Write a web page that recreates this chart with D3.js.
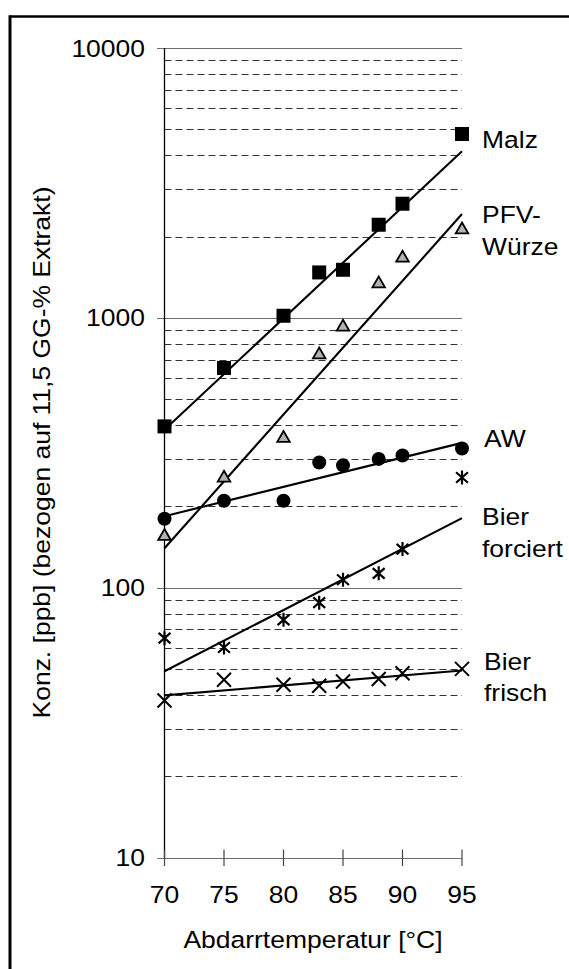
<!DOCTYPE html>
<html>
<head>
<meta charset="utf-8">
<script src="https://cdn.jsdelivr.net/npm/d3@7"></script>
<style>
  html, body { margin: 0; padding: 0; background: #fff; }
  svg { display: block; font-family: "Liberation Sans", Arial, sans-serif; }
</style>
</head>
<body>
<svg id="chart" width="569" height="969"></svg>
<script>
// Abdarrtemperatur (°C)
const temps = [70, 75, 80, 83, 85, 88, 90, 95];

// Konzentration [ppb] bezogen auf 11,5 GG-% Extrakt
const malz       = [396, 652, 1018, 1473, 1507, 2213, 2648, 4800];
const pfvWuerze  = [155, 255, 358, 730, 925, 1338, 1666, 2121];
const aw         = [180, 210, 210, 291, 284, 300, 309, 328];
const bierForc   = [65, 60, 76, 88, 107, 113, 139, 256];
const bierFrisch = [38.2, 45.6, 43.7, 43.3, 44.9, 45.9, 48.2, 50];

// Exponentielle Trendlinien: Werte bei 70 °C und 95 °C
const trendTemps = [70, 95];
const malzTrend       = [385, 4140];
const pfvTrend        = [140, 2425];
const awTrend         = [184, 344];
const bierForcTrend   = [49, 181];
const bierFrischTrend = [39.9, 49.3];

const xTicks = [70, 75, 80, 85, 90, 95];
const yMajorTicks = [10, 100, 1000, 10000];
const yMinorTicks = [20, 30, 40, 50, 60, 70, 80, 90,
                     200, 300, 400, 500, 600, 700, 800, 900,
                     2000, 3000, 4000, 5000, 6000, 7000, 8000, 9000];

const seriesLabels = [
  { lines: ["Malz"], x: 482, y: 147.5 },
  { lines: ["PFV-", "Würze"], x: 482, y: 223 },
  { lines: ["AW"], x: 484, y: 446.5 },
  { lines: ["Bier", "forciert"], x: 482, y: 525 },
  { lines: ["Bier", "frisch"], x: 484, y: 669.5 }
];

const FS = 24.5;      // Schriftgröße
const WIDEN = 1.08;   // etwas breitere Laufweite der Schrift

const svg = d3.select("#chart");
const x = d3.scaleLinear().domain([70, 95]).range([164.5, 462]);
const y = d3.scaleLog().domain([10, 10000]).range([857.5, 48]);

// Rahmen (oben und links)
svg.append("line").attr("x1", 10).attr("x2", 569).attr("y1", 16.5).attr("y2", 16.5)
  .attr("stroke", "#000").attr("stroke-width", 2.6);
svg.append("line").attr("x1", 10).attr("x2", 10).attr("y1", 15.2).attr("y2", 969)
  .attr("stroke", "#000").attr("stroke-width", 3);

const [x0, x1] = x.range();

// Hilfslinien (gestrichelt)
svg.append("g").selectAll("line").data(yMinorTicks).join("line")
  .attr("x1", x0).attr("x2", x1)
  .attr("y1", d => Math.round(y(d)) + 0.5).attr("y2", d => Math.round(y(d)) + 0.5)
  .attr("stroke", "#333").attr("stroke-width", 1)
  .attr("stroke-dasharray", "7,4");

// Hauptgitterlinien mit Teilstrichen links
svg.append("g").selectAll("line").data(yMajorTicks).join("line")
  .attr("x1", x0 - 7.5).attr("x2", x1)
  .attr("y1", d => Math.round(y(d)) + 0.5).attr("y2", d => Math.round(y(d)) + 0.5)
  .attr("stroke", "#6e6e6e").attr("stroke-width", 1.2);

// y-Achse
svg.append("line").attr("x1", x0).attr("x2", x0)
  .attr("y1", y(10000)).attr("y2", y(10))
  .attr("stroke", "#000").attr("stroke-width", 1.3);

// x-Achse Teilstriche
svg.append("g").selectAll("line").data(xTicks).join("line")
  .attr("x1", d => x(d)).attr("x2", d => x(d))
  .attr("y1", y(10) - 8).attr("y2", y(10) + 8.5)
  .attr("stroke", "#444").attr("stroke-width", 1.2);

const texts = [];

// Achsenbeschriftungen
svg.append("g").selectAll("text").data(yMajorTicks).join("text")
  .attr("x", 145).attr("y", d => y(d))
  .attr("dy", "0.35em")
  .attr("text-anchor", "end")
  .attr("font-size", FS)
  .text(d => d)
  .each(function () { texts.push(this); });

svg.append("g").selectAll("text").data(xTicks).join("text")
  .attr("x", d => x(d)).attr("y", 903)
  .attr("text-anchor", "middle")
  .attr("font-size", FS)
  .text(d => d)
  .each(function () { texts.push(this); });

texts.push(svg.append("text")
  .attr("x", 313).attr("y", 948)
  .attr("text-anchor", "middle")
  .attr("font-size", FS)
  .text("Abdarrtemperatur [°C]").node());

texts.push(svg.append("text")
  .attr("transform", "translate(50,452.5) rotate(-90)")
  .attr("text-anchor", "middle")
  .attr("font-size", FS)
  .text("Konz. [ppb] (bezogen auf 11,5 GG-% Extrakt)").node());

// Trendlinien
const trendLine = d3.line().x((d, i) => x(trendTemps[i])).y(d => y(d));
[malzTrend, pfvTrend, awTrend, bierForcTrend, bierFrischTrend].forEach(t => {
  svg.append("path").attr("d", trendLine(t))
    .attr("fill", "none").attr("stroke", "#000").attr("stroke-width", 2.1);
});

const pts = vals => vals.map((v, i) => [x(temps[i]), y(v)]);

// Malz: Quadrate
svg.append("g").selectAll("rect").data(pts(malz)).join("rect")
  .attr("x", d => d[0] - 7).attr("y", d => d[1] - 7)
  .attr("width", 14).attr("height", 14).attr("fill", "#000");

// PFV-Würze: graue Dreiecke
const tri = d3.symbol().type(d3.symbolTriangle).size(68);
svg.append("g").selectAll("path").data(pts(pfvWuerze)).join("path")
  .attr("transform", d => `translate(${d[0]},${d[1]})`)
  .attr("d", tri).attr("fill", "#b2b2b2").attr("stroke", "#000").attr("stroke-width", 1.8);

// AW: Kreise
svg.append("g").selectAll("circle").data(pts(aw)).join("circle")
  .attr("cx", d => d[0]).attr("cy", d => d[1]).attr("r", 7).attr("fill", "#000");

// Bier forciert: Sterne
const star = (cx, cy) => {
  const r = 7;
  return `M${cx - r * 0.85},${cy - r * 0.75}L${cx + r * 0.85},${cy + r * 0.75}` +
         `M${cx - r * 0.85},${cy + r * 0.75}L${cx + r * 0.85},${cy - r * 0.75}` +
         `M${cx},${cy - r}L${cx},${cy + r}`;
};
svg.append("g").selectAll("path").data(pts(bierForc)).join("path")
  .attr("d", d => star(d[0], d[1]))
  .attr("fill", "none").attr("stroke", "#000").attr("stroke-width", 2.2);

// Bier frisch: Kreuze
const cross = (cx, cy) => {
  const r = 7;
  return `M${cx - r},${cy - r}L${cx + r},${cy + r}M${cx - r},${cy + r}L${cx + r},${cy - r}`;
};
svg.append("g").selectAll("path").data(pts(bierFrisch)).join("path")
  .attr("d", d => cross(d[0], d[1]))
  .attr("fill", "none").attr("stroke", "#000").attr("stroke-width", 2);

// Reihenbeschriftungen
seriesLabels.forEach(l => {
  l.lines.forEach((s, i) => {
    texts.push(svg.append("text")
      .attr("x", l.x).attr("y", l.y + i * 31.5)
      .attr("font-size", FS)
      .text(s).node());
  });
});

// Laufweite leicht strecken
texts.forEach(t => {
  const w = t.getComputedTextLength();
  d3.select(t).attr("textLength", w * WIDEN).attr("lengthAdjust", "spacingAndGlyphs");
});
</script>
</body>
</html>
